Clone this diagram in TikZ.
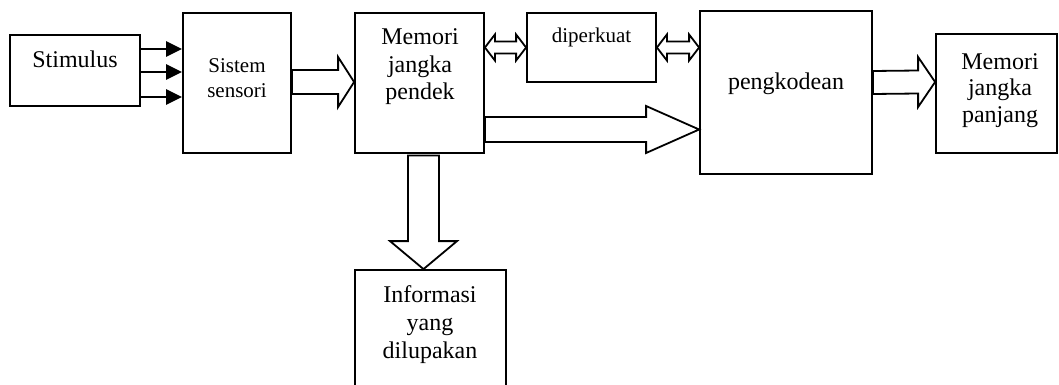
\documentclass[tikz,border=0pt]{standalone}
\usepackage{fontspec}
\setmainfont{Liberation Serif}
\usetikzlibrary{calc,arrows.meta}
\tikzset{
  box/.style={draw,line width=1.8pt,inner sep=0pt,rectangle},
  txt/.style={inner sep=0pt,align=center,anchor=base,font=\fontsize{24}{27.5}\selectfont},
  stxt/.style={inner sep=0pt,align=center,anchor=base,font=\fontsize{21}{25}\selectfont},
  blk/.style={draw,line width=1.8pt,fill=white,line join=miter},
  sarr/.style={line width=2.6pt,-{Triangle[length=16pt,width=15pt]}},
}
\begin{document}
\begin{tikzpicture}[x=1pt,y=-1pt]
\useasboundingbox (0,0) rectangle (1059,385);
\clip (0,0) rectangle (1059,385);
% boxes
\node[box,minimum width=130pt,minimum height=71pt] (stim) at (75,70.5) {};
\node[box,minimum width=108pt,minimum height=140pt] (ss) at (237,83) {};
\node[box,minimum width=129pt,minimum height=140pt] (mjp) at (419.5,83) {};
\node[box,minimum width=129pt,minimum height=69pt] (dip) at (591.5,47.5) {};
\node[box,minimum width=172pt,minimum height=163pt] (kod) at (786,92.5) {};
\node[box,minimum width=121pt,minimum height=119pt] (mjpj) at (996.5,93.5) {};
\node[box,minimum width=151pt,minimum height=130pt] (info) at (430.5,335) {};
% texts (base = baseline of last line)
\node[txt] (tstim) at (75,68) {Stimulus};
\node[stxt] (tss) at (237,98) {Sistem\\sensori};
\node[txt] (tmjp) at (420,100) {Memori\\jangka\\pendek};
\node[stxt] (tdip) at (591.5,43) {diperkuat};
\node[txt] (tkod) at (786,90) {pengkodean};
\node[txt,font=\fontsize{24}{26}\selectfont] (tmjpj) at (1000,122) {Memori\\jangka\\panjang};
\node[txt,font=\fontsize{24}{28}\selectfont] (tinfo) at (430,358) {Informasi\\yang\\dilupakan};
% small stimulus arrows
\draw[sarr] ($(stim.east)+(0,-21.5)$) coordinate (s1) -- (s1 -| ss.west);
\draw[sarr] ($(stim.east)+(0,1.5)$) coordinate (s2) -- (s2 -| ss.west);
\draw[sarr] ($(stim.east)+(0,26.5)$) coordinate (s3) -- (s3 -| ss.west);
% sistem sensori -> memori jangka pendek
\coordinate (t1) at ($(mjp.west)+(0,-1)$);
\draw[blk] ($(ss.east)+(0,-13)$) -- ($(t1)+(-16,-12)$) -- ($(t1)+(-16,-25)$) -- (t1)
  -- ($(t1)+(-16,25)$) -- ($(t1)+(-16,12)$) -- ($(ss.east)+(0,11)$) -- cycle;
% memori jangka pendek -> pengkodean
\coordinate (t2) at ($(kod.west)+(0,37)$);
\draw[blk] ($(mjp.east)+(0,34)$) -- ($(t2)+(-53,-12.5)$) -- ($(t2)+(-53,-23.5)$) -- (t2)
  -- ($(t2)+(-53,23.5)$) -- ($(t2)+(-53,12.5)$) -- ($(mjp.east)+(0,59)$) -- cycle;
% pengkodean -> memori jangka panjang
\coordinate (t3) at ($(mjpj.west)+(0,-11.5)$);
\draw[blk] ($(kod.east)+(0,-21.5)$) -- ($(t3)+(-17,-11.5)$) -- ($(t3)+(-17,-25)$) -- (t3)
  -- ($(t3)+(-17,25)$) -- ($(t3)+(-17,11.5)$) -- ($(kod.east)+(0,1.5)$) -- cycle;
% memori jangka pendek -> informasi
\coordinate (t4) at ($(info.north)+(-7,0)$);
\draw[blk] ($(mjp.south)+(-11.5,1.5)$) -- ($(t4)+(-15.5,-28)$) -- ($(t4)+(-33.5,-28)$) -- (t4)
  -- ($(t4)+(33.5,-28)$) -- ($(t4)+(15.5,-28)$) -- ($(mjp.south)+(19.5,1.5)$) -- cycle;
% double arrows
\coordinate (d1a) at (mjp.east |- dip.west);
\coordinate (d1b) at (dip.west);
\draw[blk] (d1a) -- ($(d1a)+(10,-13)$) -- ($(d1a)+(10,-6)$) -- ($(d1b)+(-10,-6)$) -- ($(d1b)+(-10,-13)$)
  -- (d1b) -- ($(d1b)+(-10,13)$) -- ($(d1b)+(-10,6)$) -- ($(d1a)+(10,6)$) -- ($(d1a)+(10,13)$) -- cycle;
\coordinate (d2a) at (dip.east);
\coordinate (d2b) at (kod.west |- dip.east);
\draw[blk] (d2a) -- ($(d2a)+(10,-13)$) -- ($(d2a)+(10,-6)$) -- ($(d2b)+(-10,-6)$) -- ($(d2b)+(-10,-13)$)
  -- (d2b) -- ($(d2b)+(-10,13)$) -- ($(d2b)+(-10,6)$) -- ($(d2a)+(10,6)$) -- ($(d2a)+(10,13)$) -- cycle;
\end{tikzpicture}
\end{document}
